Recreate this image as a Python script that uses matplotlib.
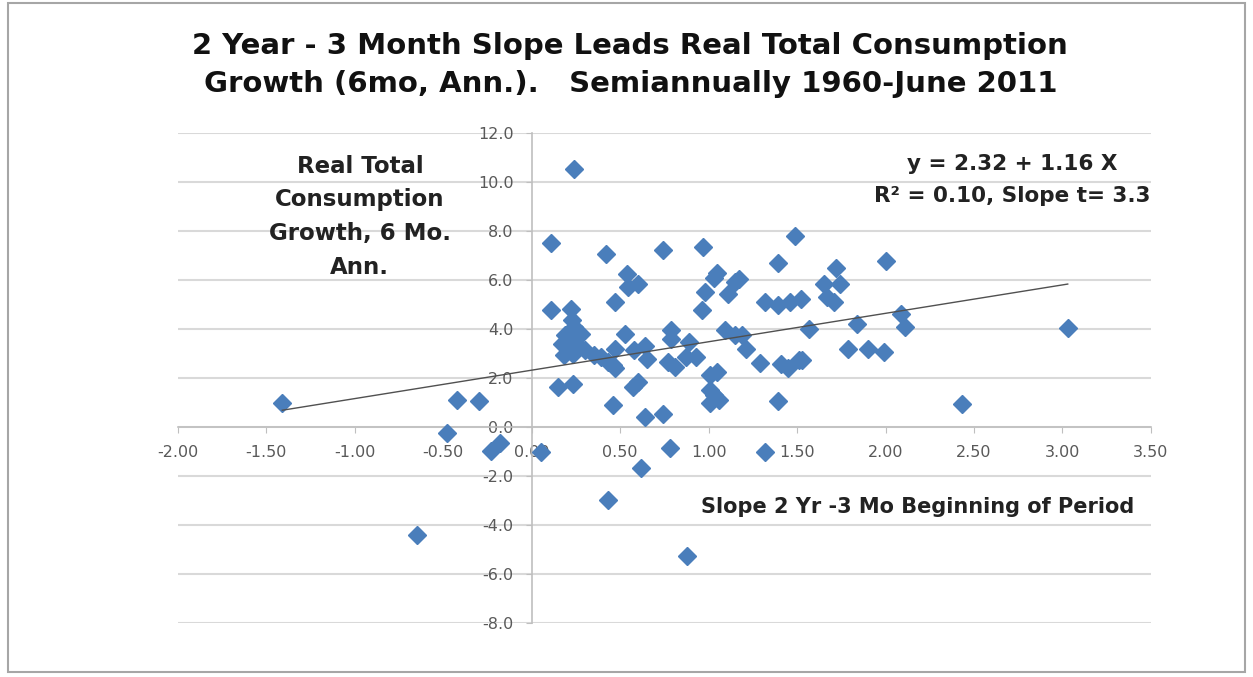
import numpy as np
import matplotlib
matplotlib.use("Agg")
import matplotlib.pyplot as plt
from matplotlib.patches import Rectangle

# slope (2yr - 3mo) at beginning of period
slope = [-1.41, -0.42, -0.30, -0.48, -0.23, -0.18, -0.65, 0.05,
         0.24, 0.11, 0.42, 0.74, 0.97, 1.49, 1.39, 2.00,
         0.54, 0.545, 0.60, 0.47, 0.98, 1.03, 1.05, 1.11,
         1.15, 1.17, 0.96, 1.32, 1.39, 1.46, 1.52, 1.65,
         1.72, 1.74, 1.67, 1.71, 1.84, 2.09, 2.11, 1.57,
         3.03, 2.43, 1.79, 1.90, 1.99, 1.53, 1.09, 1.15,
         1.19, 1.21, 1.29, 1.41, 1.45, 1.51, 1.39, 1.32,
         1.01, 1.05, 1.005, 1.03, 1.01, 1.06, 0.79, 0.79,
         0.89, 0.87, 0.93, 0.77, 0.81, 0.53, 0.47, 0.58,
         0.64, 0.65, 0.43, 0.47, 0.57, 0.60, 0.46, 0.64,
         0.74, 0.78, 0.62, 0.43, 0.88, 0.15, 0.235, 0.11,
         0.22, 0.225, 0.24, 0.19, 0.24, 0.28, 0.17, 0.21,
         0.26, 0.18, 0.235, 0.30, 0.35, 0.39, 0.46]
# real total consumption growth, 6 mo annualized
growth = [0.97, 1.10, 1.07, -0.23, -1.00, -0.66, -4.39, -1.04,
          10.55, 7.50, 7.08, 7.24, 7.33, 7.80, 6.70, 6.79,
          6.25, 5.70, 5.84, 5.09, 5.50, 6.10, 6.30, 5.43,
          5.90, 6.05, 4.78, 5.09, 4.96, 5.10, 5.23, 5.84,
          6.48, 5.84, 5.30, 5.09, 4.22, 4.62, 4.10, 4.00,
          4.04, 0.93, 3.20, 3.20, 3.06, 2.72, 3.94, 3.74,
          3.74, 3.20, 2.61, 2.59, 2.39, 2.75, 1.06, -1.03,
          2.11, 2.25, 1.50, 1.30, 0.96, 1.10, 3.94, 3.60,
          3.47, 2.86, 2.86, 2.65, 2.45, 3.78, 3.20, 3.16,
          3.30, 2.79, 2.65, 2.39, 1.64, 1.84, 0.88, 0.39,
          0.53, -0.84, -1.68, -3.00, -5.27, 1.64, 1.75, 4.76,
          4.83, 4.35, 4.08, 3.74, 3.60, 3.80, 3.40, 3.26,
          3.33, 2.93, 3.00, 3.13, 2.93, 2.86, 2.52]

intercept, coef = 2.32, 1.16
x_ticks = np.arange(-2.0, 3.51, 0.5)
y_ticks = np.arange(-8.0, 12.01, 2.0)

fig = plt.figure(figsize=(12.53, 6.77), dpi=100)
fig.patches.append(Rectangle((0.006, 0.007), 0.988, 0.988, transform=fig.transFigure,
                             fill=False, edgecolor='#a6a6a6', lw=1.5))
ax = fig.add_axes([0.142, 0.0798, 0.7765, 0.7237])

ax.plot(slope, growth, linestyle='none', marker='D', ms=9.5,
        color='#4a7ebb', mec='#4a7ebb', zorder=3)

xs = np.array([min(slope), max(slope)])
ax.plot(xs, intercept + coef * xs, color='#505050', lw=1, zorder=4)

ax.set_xlim(-2.0, 3.5)
ax.set_ylim(-8.0, 12.0)
ax.set_xticks(x_ticks)
ax.set_xticklabels([f'{v:.2f}' for v in x_ticks])
ax.set_yticks(y_ticks)
ax.set_yticklabels([f'{v:.1f}' for v in y_ticks])

ax.spines['left'].set_position(('data', 0))
ax.spines['bottom'].set_position(('data', 0))
for s in ['top', 'right']:
    ax.spines[s].set_visible(False)
for s in ['left', 'bottom']:
    ax.spines[s].set_color('#bfbfbf')
    ax.spines[s].set_linewidth(1.2)

ax.yaxis.grid(True, color='#d9d9d9', lw=1.5, zorder=0)
ax.set_axisbelow(True)
ax.tick_params(axis='x', colors='#bfbfbf', labelcolor='#595959', labelsize=11.5,
               length=4, pad=9, direction='out')
ax.tick_params(axis='y', colors='#bfbfbf', labelcolor='#595959', labelsize=11.5,
               length=4, pad=9, direction='out')

ax.text(0.187, 0.829, 'Real Total\nConsumption\nGrowth, 6 Mo.\nAnn.', transform=ax.transAxes,
        ha='center', va='center', fontsize=16.5, fontweight='bold', color='#222222',
        linespacing=1.6)
ax.text(0.858, 0.904, 'y = 2.32 + 1.16 X\nR² = 0.10, Slope t= 3.3', transform=ax.transAxes,
        ha='center', va='center', fontsize=15.5, fontweight='bold', color='#222222',
        linespacing=1.7)
ax.text(0.7605, 0.237, 'Slope 2 Yr -3 Mo Beginning of Period', transform=ax.transAxes,
        ha='center', va='center', fontsize=15, fontweight='bold', color='#222222')

fig.text(0.503, 0.904, '2 Year - 3 Month Slope Leads Real Total Consumption\n'
         'Growth (6mo, Ann.).   Semiannually 1960-June 2011',
         ha='center', va='center', fontsize=21, fontweight='bold', color='#111111',
         linespacing=1.48)

fig.savefig('out.png', dpi=100)
